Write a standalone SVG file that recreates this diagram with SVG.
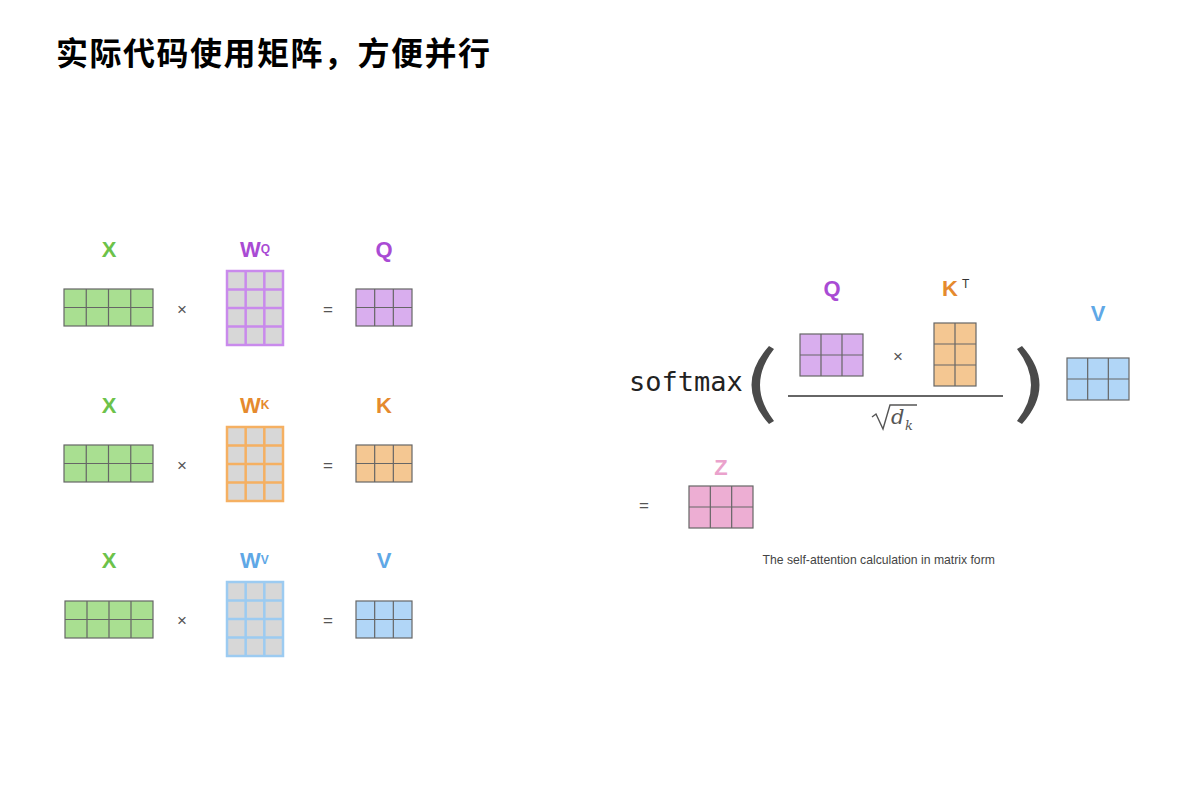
<svg xmlns="http://www.w3.org/2000/svg" width="1183" height="785" viewBox="0 0 1183 785">
<style>
.lbl{font-family:"Liberation Sans",Arial,sans-serif;font-weight:bold;font-size:22px}
.sup{font-size:12px}
.op{font-family:"Liberation Sans",Arial,sans-serif;font-size:17px;fill:#555;text-anchor:middle}
.grid{fill:none;stroke:#666;stroke-width:1.2}
.green{fill:#a9df91;stroke:#666;stroke-width:1.2}
.purple{fill:#d9aeee;stroke:#666;stroke-width:1.2}
.orange{fill:#f4c792;stroke:#666;stroke-width:1.2}
.blue{fill:#b1d6f7;stroke:#666;stroke-width:1.2}
.pink{fill:#edaed3;stroke:#666;stroke-width:1.2}
.wgray{fill:#d7d7d7}
.wq{fill:none;stroke:#c98aec;stroke-width:2.5}
.wk{fill:none;stroke:#f5b062;stroke-width:2.5}
.wv{fill:none;stroke:#9ccbf1;stroke-width:2.5}
.cg{fill:#6cc24a}.cp{fill:#a94bd4}.co{fill:#e58a2e}.cb{fill:#5fa8e6}.cz{fill:#eaa2cc}
</style>
<rect width="1183" height="785" fill="#fff"/>
<text x="56" y="65" font-family="'Noto Sans CJK SC','Noto Sans',sans-serif" font-weight="bold" font-size="32" letter-spacing="1.5" fill="#000">实际代码使用矩阵，方便并行</text>

<!-- Row 1 -->
<g id="row1">
<text class="lbl cg" x="109" y="257" text-anchor="middle">X</text>
<text class="lbl cp" x="240" y="257">W<tspan class="sup" dy="-4">Q</tspan></text>
<text class="lbl cp" x="384" y="257" text-anchor="middle">Q</text>
<g id="x1" transform="translate(64,289)"><rect class="green" width="89" height="37"/><path class="grid" d="M22.25 0V37M44.5 0V37M66.75 0V37M0 18.5H89"/></g>
<text class="op" x="182" y="315">×</text>
<g id="wq" transform="translate(227,271)"><rect class="wgray" width="56" height="74"/><path class="wq" d="M18.67 0V74M37.33 0V74M0 18.5H56M0 37H56M0 55.5H56"/><rect class="wq" width="56" height="74"/></g>
<text class="op" x="328" y="315">=</text>
<g id="q1" transform="translate(356,289)"><rect class="purple" width="56" height="37"/><path class="grid" d="M18.67 0V37M37.33 0V37M0 18.5H56"/></g>
</g>

<!-- Row 2 -->
<g id="row2">
<text class="lbl cg" x="109" y="413" text-anchor="middle">X</text>
<text class="lbl co" x="240" y="413">W<tspan class="sup" dy="-4">K</tspan></text>
<text class="lbl co" x="384" y="413" text-anchor="middle">K</text>
<g id="x2" transform="translate(64,445)"><rect class="green" width="89" height="37"/><path class="grid" d="M22.25 0V37M44.5 0V37M66.75 0V37M0 18.5H89"/></g>
<text class="op" x="182" y="471">×</text>
<g id="wk" transform="translate(227,427)"><rect class="wgray" width="56" height="74"/><path class="wk" d="M18.67 0V74M37.33 0V74M0 18.5H56M0 37H56M0 55.5H56"/><rect class="wk" width="56" height="74"/></g>
<text class="op" x="328" y="471">=</text>
<g id="k1" transform="translate(356,445)"><rect class="orange" width="56" height="37"/><path class="grid" d="M18.67 0V37M37.33 0V37M0 18.5H56"/></g>
</g>

<!-- Row 3 -->
<g id="row3">
<text class="lbl cg" x="109" y="568" text-anchor="middle">X</text>
<text class="lbl cb" x="240" y="568">W<tspan class="sup" dy="-4">V</tspan></text>
<text class="lbl cb" x="384" y="568" text-anchor="middle">V</text>
<g id="x3" transform="translate(65,601)"><rect class="green" width="88" height="37"/><path class="grid" d="M22 0V37M44 0V37M66 0V37M0 18.5H88"/></g>
<text class="op" x="182" y="626">×</text>
<g id="wv" transform="translate(227,582)"><rect class="wgray" width="56" height="74"/><path class="wv" d="M18.67 0V74M37.33 0V74M0 18.5H56M0 37H56M0 55.5H56"/><rect class="wv" width="56" height="74"/></g>
<text class="op" x="328" y="626">=</text>
<g id="v1" transform="translate(356,601)"><rect class="blue" width="56" height="37"/><path class="grid" d="M18.67 0V37M37.33 0V37M0 18.5H56"/></g>
</g>

<!-- Right formula -->
<g id="formula">
<text x="629" y="391" font-family="'DejaVu Sans Mono',monospace" font-size="27" fill="#222">softmax</text>
<path d="M769 346Q734 385 769 424L774 421Q746 385 774 349Z" fill="#4a4a4a"/>
<path d="M1022 346Q1057 385 1022 424L1017 421Q1045 385 1017 349Z" fill="#4a4a4a"/>
<text class="lbl cp" x="832" y="296" text-anchor="middle">Q</text>
<text class="lbl co" x="942" y="296">K<tspan font-size="12" font-weight="normal" fill="#333" dx="4" dy="-8">T</tspan></text>
<text class="lbl cb" x="1098" y="321" text-anchor="middle">V</text>
<g id="q2" transform="translate(800,334)"><rect class="purple" width="63" height="42"/><path class="grid" d="M21 0V42M42 0V42M0 21H63"/></g>
<text class="op" x="898" y="362">×</text>
<g id="kt" transform="translate(934,323)"><rect class="orange" width="42" height="63"/><path class="grid" d="M21 0V63M0 21H42M0 42H42"/></g>
<line x1="788" y1="396" x2="1003" y2="396" stroke="#666" stroke-width="1.8"/>
<path d="M872 417L876 414L883 429L890 405L917 405" fill="none" stroke="#555" stroke-width="1.4"/>
<text x="891" y="424" font-family="'DejaVu Serif','Liberation Serif',serif" font-style="italic" font-size="21" fill="#555">d</text>
<text x="905" y="430" font-family="'DejaVu Serif','Liberation Serif',serif" font-style="italic" font-size="13" fill="#555">k</text>
<g id="v2" transform="translate(1067,358)"><rect class="blue" width="62" height="42"/><path class="grid" d="M20.67 0V42M41.33 0V42M0 21H62"/></g>
<text class="op" x="644" y="511">=</text>
<text class="lbl cz" x="721" y="475" text-anchor="middle">Z</text>
<g id="z" transform="translate(689,486)"><rect class="pink" width="64" height="42"/><path class="grid" d="M21.33 0V42M42.67 0V42M0 21H64"/></g>
<text x="762.5" y="564" font-family="'Liberation Sans',Arial,sans-serif" font-size="12.2" fill="#444">The self-attention calculation in matrix form</text>
</g>
</svg>
